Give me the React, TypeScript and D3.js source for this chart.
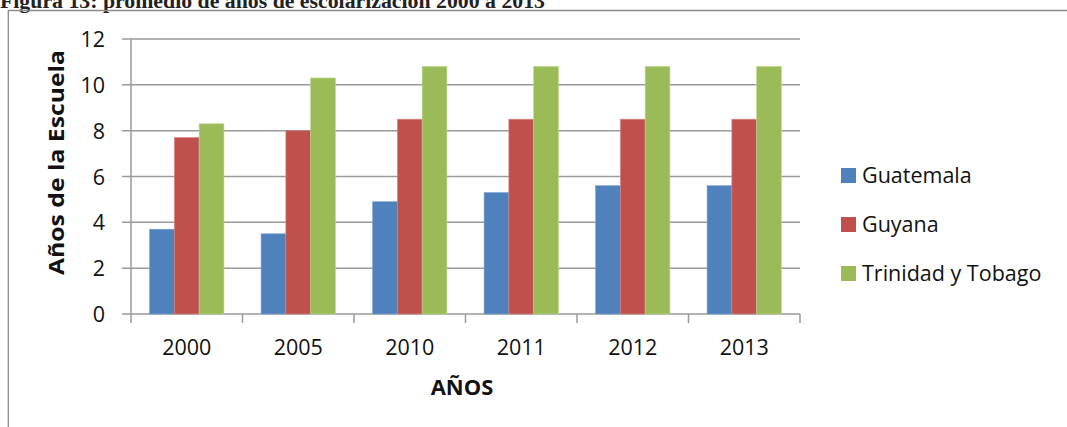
import React from "react";
import * as d3 from "d3";

const years = ["2000", "2005", "2010", "2011", "2012", "2013"];
const seriesNames = ["Guatemala", "Guyana", "Trinidad y Tobago"];
const guatemala = [3.7, 3.5, 4.9, 5.3, 5.6, 5.6];
const guyana = [7.7, 8.0, 8.5, 8.5, 8.5, 8.5];
const trinidad = [8.3, 10.3, 10.8, 10.8, 10.8, 10.8];
const yTicks = [0, 2, 4, 6, 8, 10, 12];
const colors = ["#4F81BD", "#C0504D", "#9BBB59"];
const strokes = ["#7EA3D4", "#D98583", "#BDD68A"];
const titleText = "Figura 13: promedio de años de escolarización 2000 a 2013";
const xTitle = "AÑOS";
const yTitle = "Años de la Escuela";

export default function App() {
  const W = 1067, H = 427;
  const left = 131, right = 800, top = 39, bottom = 314;
  const x = d3.scaleBand<string>().domain(years).range([left, right]).paddingInner(0).paddingOuter(0);
  const y = d3.scaleLinear().domain([0, 12]).range([bottom, top]);
  const values = [guatemala, guyana, trinidad];
  const bw = x.bandwidth() / 4.5;
  const font = "'Open Sans', sans-serif";
  const grid = "#9A9A9A";
  const fs = 21.5;

  return (
    <svg width={W} height={H} style={{ position: "absolute", left: 0, top: 0, background: "#fff" }}>
      <text x={0} y={7.5} fontFamily="'Liberation Serif', serif" fontWeight="bold" fontSize={20}
        textLength={545} lengthAdjust="spacingAndGlyphs" fill="#222">{titleText}</text>
      <line x1={8} x2={W} y1={10.5} y2={10.5} stroke="#8A8A8A" strokeWidth={1.3} />
      <line x1={8.3} x2={8.3} y1={10} y2={H} stroke="#8A8A8A" strokeWidth={1.3} />

      {yTicks.map((t) => (
        <g key={t}>
          <line x1={left - 9} x2={right} y1={y(t)} y2={y(t)} stroke={grid} strokeWidth={1.5} />
          <text x={105} y={y(t) + 8} textAnchor="end" fontFamily={font} fontSize={fs} fill="#111">{t}</text>
        </g>
      ))}
      <line x1={left} x2={left} y1={top} y2={bottom} stroke={grid} strokeWidth={1.5} />
      {years.concat(["end"]).map((yr, i) => {
        const xx = left + i * x.bandwidth();
        return <line key={yr} x1={xx} x2={xx} y1={bottom} y2={bottom + 9} stroke={grid} strokeWidth={1.5} />;
      })}

      {years.map((yr, i) => (
        <g key={yr}>
          {values.map((vals, s) => {
            const bx = (x(yr) as number) + bw * 0.75 + s * bw;
            return (
              <rect key={s} x={bx} y={y(vals[i])} width={bw} height={y(0) - y(vals[i])}
                fill={colors[s]} stroke={strokes[s]} strokeWidth={0.6} />
            );
          })}
          <text x={(x(yr) as number) + x.bandwidth() / 2} y={355} textAnchor="middle"
            fontFamily={font} fontSize={fs} fill="#111">{yr}</text>
        </g>
      ))}

      <text x={462} y={395} textAnchor="middle" fontFamily={font} fontWeight="bold"
        fontSize={22} fill="#111">{xTitle}</text>
      <text transform={`translate(64, ${(top + bottom) / 2 - 14}) rotate(-90)`} textAnchor="middle"
        fontFamily={font} fontWeight="bold" fontSize={20.5} textLength={225} lengthAdjust="spacingAndGlyphs"
        fill="#111">{yTitle}</text>

      {seriesNames.map((n, i) => (
        <g key={n} transform={`translate(841, ${168 + i * 49})`}>
          <rect x={0} y={0} width={15} height={15} fill={colors[i]} />
          <text x={21} y={15} fontFamily={font} fontSize={fs} fill="#111">{n}</text>
        </g>
      ))}
    </svg>
  );
}
